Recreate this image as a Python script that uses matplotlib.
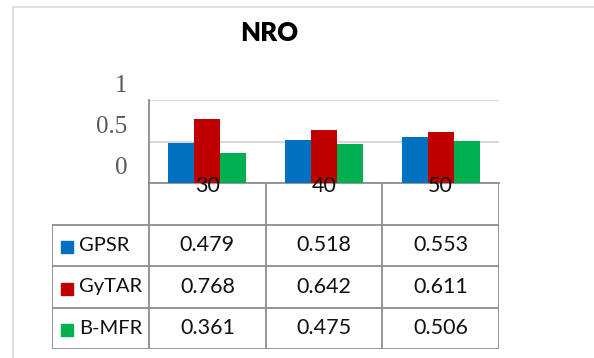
import matplotlib.pyplot as plt
from matplotlib.patches import Rectangle
from matplotlib.transforms import ScaledTranslation
import numpy as np

# data
categories = ['30', '40', '50']
series_names = ['GPSR', 'GyTAR', 'B-MFR']
gpsr = [0.479, 0.518, 0.553]
gytar = [0.768, 0.642, 0.611]
bmfr = [0.361, 0.475, 0.506]
colors = ['#0070C0', '#C00000', '#00B050']

W, H = 594, 358
fig = plt.figure(figsize=(W / 100, H / 100), dpi=100)
tfont = 'Lato'
grid_c = '#d9d9d9'
line_c = '#8c8c8c'

# outer chart frame (cropped at right and bottom)
fig.patches.append(Rectangle((13 / W, -0.2), 1.2, 1.2 - 7 / H,
                             transform=fig.transFigure, fill=False,
                             edgecolor=grid_c, linewidth=1.2))

fig.text(269 / W, 1 - 33 / H, 'NRO', ha='center', va='center',
         fontsize=18.5, fontweight='heavy', family=tfont)

# bar plot area
ax = fig.add_axes([149 / W, 1 - 183 / H, 350 / W, 83 / H])
x = np.arange(len(categories))
bw = 0.223
for k, vals in enumerate([gpsr, gytar, bmfr]):
    ax.bar(x + (k - 1) * bw, vals, bw, color=colors[k], zorder=3)
ax.set_xlim(-0.5, 2.5)
ax.set_ylim(0, 1)
ax.set_yticks([0, 0.5, 1])
ax.set_yticklabels(['0', '0.5', '1'])
ax.set_xticks([])
ax.grid(axis='y', color=grid_c, linewidth=1.5, zorder=0)
for s in ['top', 'right']:
    ax.spines[s].set_visible(False)
for s in ['left', 'bottom']:
    ax.spines[s].set_color(line_c)
    ax.spines[s].set_linewidth(1.3)
ax.tick_params(axis='y', length=0, pad=15.5, labelsize=18,
               labelcolor='#595959')
off = ScaledTranslation(0, 17 / 100, fig.dpi_scale_trans)
for lab in ax.get_yticklabels():
    lab.set_family('Liberation Serif')
    lab.set_transform(lab.get_transform() + off)

# data table below
tax = fig.add_axes([52 / W, 1 - 349 / H, 447 / W, 166 / H])
x0 = -0.5 - 97 / (350 / 3)
tax.set_xlim(x0, 2.5)
tax.set_ylim(0, 4)
tax.axis('off')
lk = dict(color=line_c, linewidth=1.3, solid_capstyle='projecting')
for xv in [-0.5, 0.5, 1.5, 2.5]:
    tax.plot([xv, xv], [0, 4], **lk)
tax.plot([x0, x0], [0, 3], **lk)
for yv in [0, 1, 2, 3]:
    tax.plot([x0, 2.5], [yv, yv], **lk)

for i, c in enumerate(categories):
    tax.text(i, 4.16, c, ha='center', va='top', fontsize=15.5, family=tfont,
             color='#111111')

for r, (name, vals) in enumerate(zip(series_names, [gpsr, gytar, bmfr])):
    yc = 2.5 - r
    tax.plot([x0 + 0.13], [yc - 0.05], marker='s', ms=8.5, color=colors[r],
             linestyle='none')
    tax.text(x0 + 0.235, yc, name, ha='left', va='center', fontsize=14.5,
             family=tfont, color='#111111')
    for i, v in enumerate(vals):
        tax.text(i, yc, f'{v:.3f}', ha='center', va='center', fontsize=15.5,
                 family=tfont, color='#111111')

fig.savefig('out.png', dpi=100)
